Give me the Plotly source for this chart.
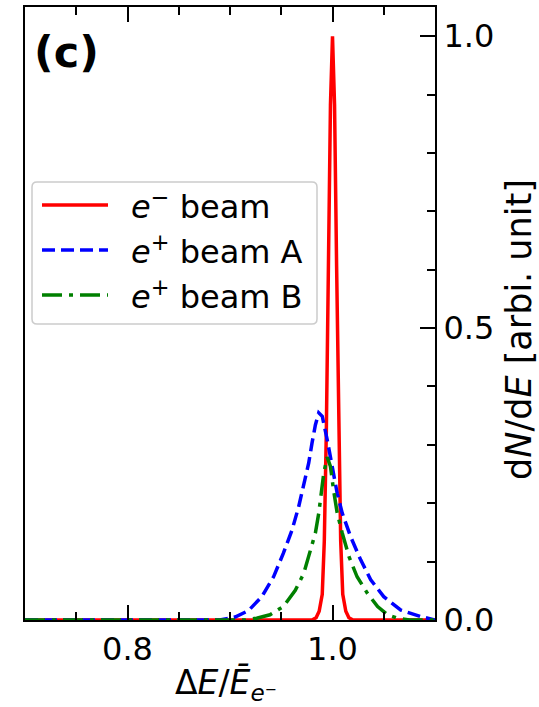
import plotly.graph_objects as go

# ---- data ----
red_x = [0.700, 0.980, 0.984, 0.987, 0.990, 0.992, 0.994, 0.996, 0.998, 1.000,
         1.002, 1.004, 1.006, 1.008, 1.010, 1.013, 1.016, 1.020, 1.100]
red_y = [0.0, 0.0, 0.004, 0.015, 0.044, 0.135, 0.325, 0.607, 0.882, 1.000,
         0.882, 0.607, 0.325, 0.135, 0.044, 0.015, 0.004, 0.0, 0.0]

blue_x = [0.700, 0.890, 0.905, 0.918, 0.931, 0.9425, 0.952, 0.9605, 0.967, 0.9735,
          0.9768, 0.980, 0.9833, 0.9866, 0.990, 0.9948, 0.9997, 1.0046, 1.0095,
          1.0176, 1.0275, 1.0373, 1.050, 1.0667, 1.086, 1.100]
blue_y = [0.0, 0.0, 0.005, 0.016, 0.040, 0.074, 0.114, 0.154, 0.194, 0.240,
          0.269, 0.303, 0.334, 0.355, 0.349, 0.309, 0.263, 0.217, 0.183,
          0.143, 0.103, 0.069, 0.040, 0.017, 0.006, 0.0]

green_x = [0.700, 0.915, 0.926, 0.939, 0.952, 0.9637, 0.972, 0.978, 0.9833, 0.9866,
           0.989, 0.9915, 0.9948, 0.998, 1.001, 1.0046, 1.0095, 1.016, 1.024,
           1.034, 1.044, 1.0536, 1.0634, 1.075, 1.100]
green_y = [0.0, 0.0, 0.003, 0.009, 0.023, 0.051, 0.080, 0.114, 0.149, 0.183,
           0.217, 0.252, 0.279, 0.263, 0.223, 0.183, 0.149, 0.109, 0.074,
           0.046, 0.023, 0.009, 0.003, 0.0, 0.0]

names = ["<i>e</i><sup>−</sup> beam", "<i>e</i><sup>+</sup> beam A", "<i>e</i><sup>+</sup> beam B"]
colors = ["#ff0000", "#0000ff", "#008000"]
dashes = ["solid", "13px,6px", "20px,7px,4px,7px"]
x_ticks = [0.8, 1.0]
x_ticktext = ["0.8", "1.0"]
y_ticks = [0.0, 0.5, 1.0]
y_ticktext = ["0.0", "0.5", "1.0"]

FONT = "DejaVu Sans"
W, H = 539, 707
L, R, T, B = 25, 435, 7, 620          # plot area in pixels
PW, PH = R - L, B - T


def px(xp):
    return (xp - L) / PW


def py(yp):
    return (B - yp) / PH


fig = go.Figure()
series = [(red_x, red_y), (blue_x, blue_y), (green_x, green_y)]
for (xs, ys), nm, c, d in zip(series, names, colors, dashes):
    fig.add_trace(go.Scatter(x=xs, y=ys, mode="lines", name=nm, showlegend=False,
                             line=dict(color=c, width=3.5, dash=d)))

fig.update_layout(
    width=W, height=H,
    margin=dict(l=L, r=W - R, t=T, b=H - B, autoexpand=False),
    paper_bgcolor="white", plot_bgcolor="white",
    font=dict(family=FONT, color="black", size=32),
    showlegend=False,
)
fig.update_xaxes(range=[0.7, 1.1], tickvals=x_ticks, ticktext=x_ticktext,
                 ticks="inside", ticklen=15, tickwidth=2, tickcolor="black",
                 showline=True, linecolor="black", linewidth=2, mirror="ticks",
                 showgrid=False, zeroline=False, automargin=False,
                 minor=dict(ticks="inside", ticklen=8, tickwidth=1.5, dtick=0.05,
                            tick0=0.7, tickcolor="black", showgrid=False),
                 tickfont=dict(size=32))
fig.update_yaxes(range=[0, 1.05], side="right", tickvals=y_ticks, ticktext=y_ticktext,
                 ticks="inside", ticklen=15, tickwidth=2, tickcolor="black",
                 showline=True, linecolor="black", linewidth=2, mirror=True,
                 showgrid=False, zeroline=False, automargin=False,
                 minor=dict(ticks="inside", ticklen=8, tickwidth=1.5, dtick=0.1,
                            tick0=0, tickcolor="black", showgrid=False),
                 tickfont=dict(size=32))

# ---- legend (drawn to match the reference's long line samples) ----
lx0, lx1, ly0, ly1, rad = 32, 317, 182, 324, 5
rx, ry = rad / PW, rad / PH
X0, X1, Y0, Y1 = px(lx0), px(lx1), py(ly1), py(ly0)
path = (f"M{X0 + rx},{Y0} L{X1 - rx},{Y0} Q{X1},{Y0} {X1},{Y0 + ry} "
        f"L{X1},{Y1 - ry} Q{X1},{Y1} {X1 - rx},{Y1} L{X0 + rx},{Y1} "
        f"Q{X0},{Y1} {X0},{Y1 - ry} L{X0},{Y0 + ry} Q{X0},{Y0} {X0 + rx},{Y0} Z")
fig.add_shape(type="path", path=path, xref="paper", yref="paper",
              line=dict(color="#cccccc", width=1.5), fillcolor="rgba(255,255,255,0.85)",
              layer="above")
entry_y = [205, 250, 295]
for nm, c, d, ey in zip(names, colors, dashes, entry_y):
    fig.add_shape(type="line", xref="paper", yref="paper",
                  x0=px(42), x1=px(108), y0=py(ey), y1=py(ey),
                  line=dict(color=c, width=3.5, dash=d), layer="above")
    fig.add_annotation(text=nm, xref="paper", yref="paper", x=px(129), y=py(ey),
                       xanchor="left", yanchor="middle", showarrow=False,
                       font=dict(size=32))

fig.add_annotation(text="<b>(c)</b>", xref="paper", yref="paper",
                   x=px(66), y=py(52), showarrow=False,
                   xanchor="center", yanchor="middle", font=dict(size=43))
fig.add_annotation(text="Δ<i>E</i>/<i>Ē</i><sub><i>e</i>⁻</sub>", xref="paper", yref="paper",
                   x=px(226), y=py(685), showarrow=False,
                   xanchor="center", yanchor="middle", font=dict(size=33))
fig.add_annotation(text="d<i>N</i>/d<i>E</i> [arbi. unit]", xref="paper", yref="paper",
                   x=px(519), y=py(330), showarrow=False,
                   xanchor="center", yanchor="middle", textangle=-90,
                   font=dict(size=35))

fig.write_html("out.html", config={"displayModeBar": False},
               post_script="document.body.style.margin='0';document.body.style.padding='0';")
